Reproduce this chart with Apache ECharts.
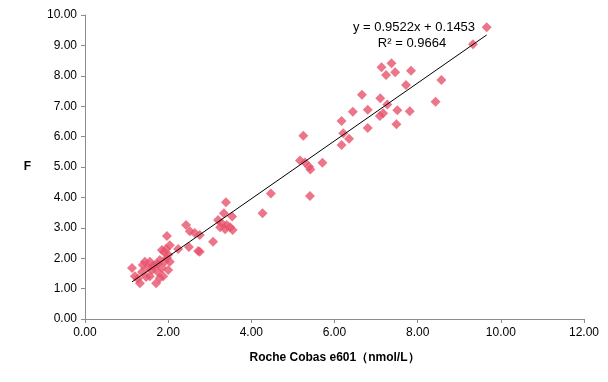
<!DOCTYPE html>
<html><head><meta charset="utf-8">
<script src="https://cdn.jsdelivr.net/npm/echarts@6/dist/echarts.min.js"></script>
<style>html,body{margin:0;padding:0;background:#fff}#c{width:608px;height:382px}</style>
</head><body><div id="c"></div>
<script>
const xTicks = [0, 2, 4, 6, 8, 10, 12];
const yTicks = [0, 1, 2, 3, 4, 5, 6, 7, 8, 9, 10];
const rocheX = [
  9.66, 9.33, 8.57, 8.43, 7.13, 7.37, 7.24, 7.46, 7.84, 7.72, 6.66, 7.10, 7.27, 6.44, 6.80, 7.51, 7.81, 7.09, 7.17, 6.17, 7.49, 6.80, 6.21, 6.35, 6.17,
  5.25, 5.17, 5.29, 5.39, 5.42, 5.71, 5.41,
  3.39, 4.47, 4.27, 3.34, 3.20, 3.54, 3.29, 3.41, 3.25, 3.49, 3.55, 3.37, 3.08, 2.76,
  2.43, 2.52, 2.64, 2.76, 2.24, 2.50, 2.72,
  1.13, 1.20, 1.32, 1.37, 1.44, 1.51, 1.56, 1.61, 1.68, 1.71, 1.75, 1.80, 1.85, 1.88, 1.90, 1.92, 1.95, 1.97, 2.00, 2.04, 2.00, 1.97, 2.04, 1.85, 1.75, 1.63, 1.47, 1.27, 1.39, 1.80, 1.56
];
const fY = [
  9.60, 9.04, 7.86, 7.15, 8.28, 8.41, 8.03, 8.12, 8.17, 7.70, 7.38, 7.26, 7.06, 6.82, 6.88, 6.87, 6.83, 6.68, 6.77, 6.51, 6.41, 6.28, 6.11, 5.93, 5.72,
  6.03, 5.21, 5.15, 5.01, 4.92, 5.14, 4.05,
  3.84, 4.13, 3.48, 3.48, 3.26, 3.37, 3.15, 3.09, 3.02, 3.02, 2.93, 2.95, 2.54, 2.21,
  3.09, 2.89, 2.83, 2.76, 2.30, 2.37, 2.24,
  1.68, 1.41, 1.18, 1.55, 1.88, 1.68, 1.41, 1.61, 1.78, 1.18, 1.55, 1.94, 1.68, 1.41, 2.20, 1.88, 2.30, 2.01, 1.61, 1.88, 2.11, 2.73, 2.43, 2.27, 1.81, 1.74, 1.38, 1.32, 1.78, 1.35, 1.88
];
const slope = 0.9522, intercept = 0.1453, r2 = 0.9664;
const eqText = 'y = ' + slope + 'x + ' + intercept;
const r2Text = 'R\u00B2 = ' + r2;

const points = rocheX.map((x, i) => [x, fY[i]]);
const xmin = Math.min(...rocheX), xmax = Math.max(...rocheX);
const trend = [[xmin, slope * xmin + intercept], [xmax, slope * xmax + intercept]];

const chart = echarts.init(document.getElementById('c'), null, {renderer: 'canvas'});
const font = 'Liberation Sans, Arial, sans-serif';
chart.setOption({
  animation: false,
  grid: {left: 85, right: 24, top: 15, bottom: 63},
  xAxis: {
    type: 'value', min: 0, max: 12, interval: 2,
    name: 'Roche Cobas e601\uFF08nmol/L\uFF09', nameLocation: 'middle', nameGap: 33,
    nameTextStyle: {fontFamily: font, fontSize: 12, fontWeight: 'bold', color: '#000'},
    axisLine: {lineStyle: {color: '#8c8c8c', width: 1}},
    axisTick: {show: true, length: 4, lineStyle: {color: '#8c8c8c'}},
    axisLabel: {formatter: v => v.toFixed(2), fontFamily: font, fontSize: 12, color: '#000', margin: 8},
    splitLine: {show: false}
  },
  yAxis: {
    type: 'value', min: 0, max: 10, interval: 1,
    name: 'F', nameLocation: 'middle', nameGap: 54, nameRotate: 0,
    nameTextStyle: {fontFamily: font, fontSize: 12, fontWeight: 'bold', color: '#000'},
    axisLine: {show: true, lineStyle: {color: '#8c8c8c', width: 1}},
    axisTick: {show: true, length: 4, lineStyle: {color: '#8c8c8c'}},
    axisLabel: {formatter: v => v.toFixed(2), fontFamily: font, fontSize: 12, color: '#000', margin: 8},
    splitLine: {show: false}
  },
  series: [
    {
      type: 'scatter', data: points, symbol: 'diamond', symbolSize: 10,
      itemStyle: {color: '#E9536B'}
    },
    {
      type: 'line', data: trend, symbol: 'none', lineStyle: {color: '#000', width: 1},
      z: 3
    }
  ],
  graphic: [
    {type: 'text', x: 414, y: 27, style: {text: eqText, font: '13px ' + font, fill: '#000', align: 'center', verticalAlign: 'middle'}},
    {type: 'text', x: 412, y: 43, style: {text: r2Text, font: '13px ' + font, fill: '#000', align: 'center', verticalAlign: 'middle'}}
  ]
});
</script></body></html>
